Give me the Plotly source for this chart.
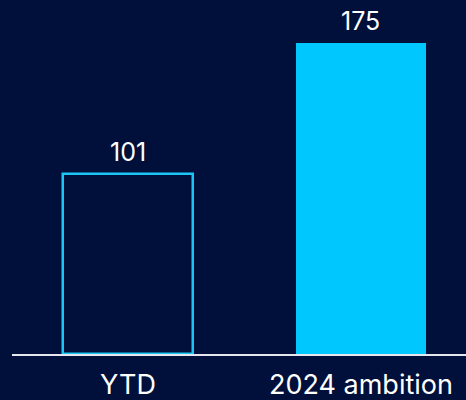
import plotly.graph_objects as go

categories = ["YTD", "2024 ambition"]
values = [101, 175]

BG = "#00103a"
CYAN = "#00c8ff"
OUTLINE = "#1cc6f4"

x_pos = list(range(len(categories)))

fig = go.Figure()
fig.add_trace(go.Bar(
    x=x_pos,
    y=values,
    width=0.56,
    marker=dict(
        color=[BG, CYAN],
        line=dict(color=[OUTLINE, CYAN], width=[2.5, 0]),
    ),
    cliponaxis=False,
    hoverinfo="skip",
))

# value labels above each bar
for xp, v in zip(x_pos, values):
    fig.add_annotation(
        x=xp, y=v, text=str(v), showarrow=False,
        yanchor="bottom", yshift=5,
        font=dict(color="white", size=25, family="Inter"),
    )

fig.update_layout(
    width=466,
    height=400,
    margin=dict(l=12, r=0, t=0, b=46),
    paper_bgcolor=BG,
    plot_bgcolor=BG,
    showlegend=False,
    bargap=0,
    xaxis=dict(
        range=[-0.498, 1.451],
        tickvals=x_pos,
        ticktext=categories,
        tickfont=dict(color="white", size=27, family="Inter"),
        showgrid=False,
        zeroline=False,
        showline=True,
        linecolor="#e6e6ee",
        linewidth=2,
        ticks="",
        ticklabelstandoff=6,
        fixedrange=True,
    ),
    yaxis=dict(
        range=[0, 199.1],
        visible=False,
        fixedrange=True,
    ),
)

fig.write_html("out.html")
